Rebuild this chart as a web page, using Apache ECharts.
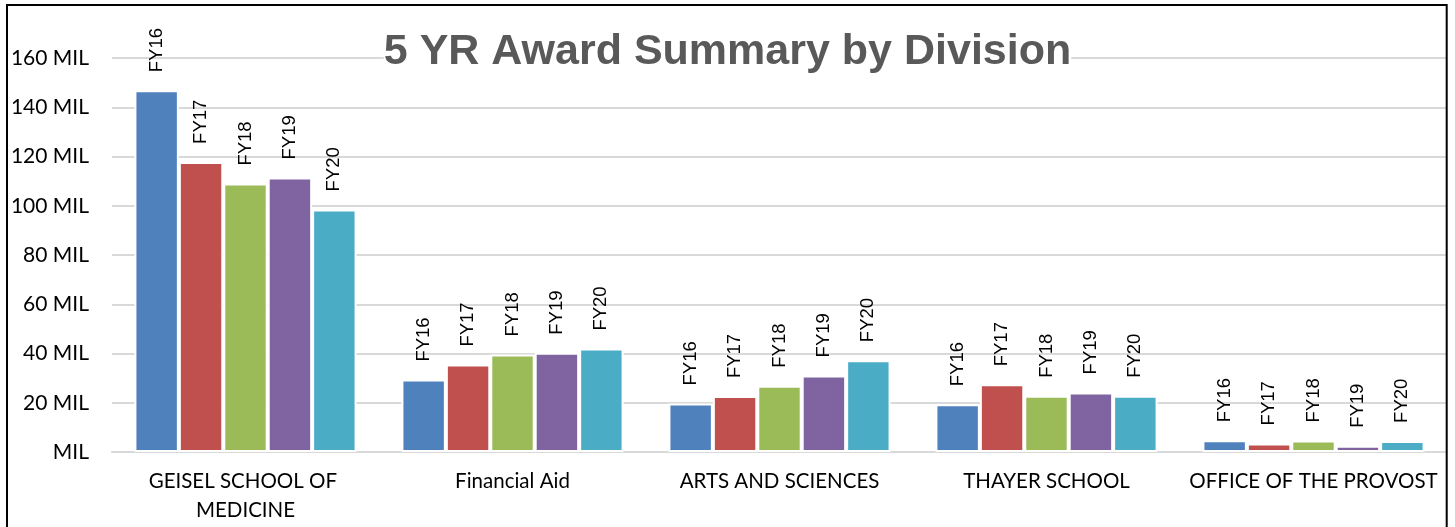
<!DOCTYPE html>
<html>
<head>
<meta charset="utf-8">
<title>5 YR Award Summary by Division</title>
<script src="https://cdn.jsdelivr.net/npm/echarts@6/dist/echarts.min.js"></script>
<style>
    html, body { margin: 0; padding: 0; background: #fff; }
    #chart { width: 1455px; height: 527px; }
</style>
</head>
<body>
<div id="chart"></div>
<script>
// divisions on the x axis
var divisions = ['GEISEL SCHOOL OF MEDICINE', 'Financial Aid', 'ARTS AND SCIENCES', 'THAYER SCHOOL', 'OFFICE OF THE PROVOST'];
var years = ['FY16', 'FY17', 'FY18', 'FY19', 'FY20'];

// awards in millions, one array per fiscal year
var fy16 = [146.9, 29.4, 19.7, 19.4, 4.8];
var fy17 = [117.8, 35.5, 22.7, 27.5, 3.5];
var fy18 = [109.0, 39.6, 26.9, 22.8, 4.7];
var fy19 = [111.5, 40.3, 31.1, 24.2, 2.5];
var fy20 = [98.5, 42.0, 37.3, 22.8, 4.5];

var yTicks = [0, 20, 40, 60, 80, 100, 120, 140, 160];

var colors = ['#4F81BD', '#C0504D', '#9BBB59', '#8064A2', '#4BACC6'];

function makeSeries(name, values) {
    return {
        name: name,
        type: 'bar',
        data: values,
        barGap: '0%',
        barCategoryGap: '16.8%',
        itemStyle: {
            borderColor: '#fff',
            borderWidth: 2
        },
        label: {
            show: true,
            position: 'top',
            distance: 18,
            rotate: 90,
            align: 'left',
            verticalAlign: 'middle',
            formatter: name,
            fontFamily: '"Liberation Sans", Arial, sans-serif',
            fontSize: 18.5,
            color: '#000'
        }
    };
}

var chart = echarts.init(document.getElementById('chart'));

chart.setOption({
    animation: false,
    color: colors,
    title: {
        text: '5 YR Award Summary by Division',
        left: 'center',
        top: 31,
        padding: 0,
        backgroundColor: '#fff',
        textStyle: {
            fontFamily: '"Liberation Sans", Arial, sans-serif',
            fontSize: 43,
            fontWeight: 'bold',
            color: '#595959'
        }
    },
    grid: {
        left: 112,
        right: 8,
        top: 58,
        bottom: 75
    },
    xAxis: {
        type: 'category',
        data: divisions,
        axisLine: { lineStyle: { color: '#d9d9d9', width: 2 } },
        axisTick: { length: 7, lineStyle: { color: '#d9d9d9', width: 2 } },
        axisLabel: {
            interval: 0,
            margin: 15,
            width: 255,
            overflow: 'break',
            lineHeight: 29,
            fontFamily: 'Lato, sans-serif',
            fontSize: 20.5,
            color: '#000'
        }
    },
    yAxis: {
        type: 'value',
        min: yTicks[0],
        max: yTicks[yTicks.length - 1],
        interval: yTicks[1] - yTicks[0],
        axisLine: { show: false },
        axisTick: { show: false },
        splitLine: { lineStyle: { color: '#d9d9d9', width: 2 } },
        axisLabel: {
            margin: 23,
            fontFamily: 'Lato, sans-serif',
            fontSize: 21,
            color: '#000',
            formatter: function (v) {
                return v === 0 ? 'MIL' : v + ' MIL';
            }
        }
    },
    series: [
        makeSeries(years[0], fy16),
        makeSeries(years[1], fy17),
        makeSeries(years[2], fy18),
        makeSeries(years[3], fy19),
        makeSeries(years[4], fy20)
    ],
    graphic: [{
        type: 'rect',
        z: 100,
        shape: { x: 7, y: 5, width: 1439.7, height: 600 },
        style: { fill: 'none', stroke: '#000', lineWidth: 2 }
    }]
});
</script>
</body>
</html>
